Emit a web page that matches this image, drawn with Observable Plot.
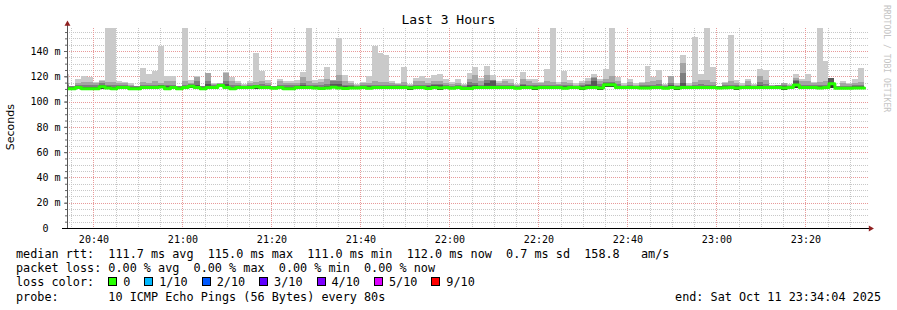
<!DOCTYPE html>
<html>
<head>
<meta charset="utf-8">
<script src="https://cdn.jsdelivr.net/npm/d3@7"></script>
<script src="https://cdn.jsdelivr.net/npm/@observablehq/plot@0.6"></script>
<style>
html, body { margin: 0; padding: 0; background: #fff; }
#wrap { position: relative; width: 897px; height: 310px; overflow: hidden; background: #fff;
        font-family: "DejaVu Sans Mono", monospace; color: #000; }
#chart { position: absolute; left: 0; top: 0; }
#title { position: absolute; left: 0; top: 11.75px; width: 897px; text-align: center;
         font-size: 13px; line-height: 16px; }
#ylab { position: absolute; left: 5px; top: 104px; writing-mode: vertical-rl; transform: rotate(180deg);
        font-family: "DejaVu Sans", sans-serif; font-size: 11px; line-height: 12px; color: #000; }
#rrd { position: absolute; left: 882px; top: 5px; writing-mode: vertical-rl;
       font-size: 8.1px; line-height: 10px; color: #c4c4c4; }
#legend { position: absolute; left: 16px; top: 247px; font-size: 11.8px; line-height: 14.2px; white-space: pre; }
#endtxt { position: absolute; right: 16px; top: 289.6px; font-size: 11.8px; line-height: 14.2px; white-space: pre; }
.it { display: inline-block; margin-left: 14px; }
.sw { display: inline-block; box-sizing: border-box; width: 9px; height: 9px; border: 1px solid #000; margin-right: 6px; vertical-align: baseline; }
</style>
</head>
<body>
<div id="wrap">
  <div id="chart"></div>
  <div id="title"></div>
  <div id="ylab"></div>
  <div id="rrd"></div>
  <div id="legend"></div>
  <div id="endtxt"></div>
</div>
<script>
// ---- texts ----
const titleText = "Last 3 Hours";
const yAxisLabel = "Seconds";
const watermark = "RRDTOOL / TOBI OETIKER";
const rttStats = ["111.7 ms avg", "115.0 ms max", "111.0 ms min", "112.0 ms now", "0.7 ms sd", "158.8   am/s"];
const lossStats = ["0.00 % avg", "0.00 % max", "0.00 % min", "0.00 % now"];
const lossLabels = ["0", "1/10", "2/10", "3/10", "4/10", "5/10", "9/10"];
const lossColors = ["#26ff00", "#00b8ff", "#0059ff", "#5e00ff", "#7e00ff", "#dd00ff", "#ff0000"];
const probeText = "10 ICMP Echo Pings (56 Bytes) every 80s";
const endText = "end: Sat Oct 11 23:34:04 2025";

// ---- axes ----
const timeTickLabels = ["20:40", "21:00", "21:20", "21:40", "22:00", "22:20", "22:40", "23:00", "23:20"];
const yTickValues = [0, 20, 40, 60, 80, 100, 120, 140];
const viewStart = Date.UTC(2025, 9, 11, 20, 34, 4);
const viewEnd = Date.UTC(2025, 9, 11, 23, 34, 4);
const yTop = 158.2;

// ---- data: one column per 80 s step, values in ms ----
const firstColumn = Date.UTC(2025, 9, 11, 20, 33, 11);
const stepMs = 80 * 1000;

const pMax = [121.8,112.5,117.6,120,119.5,115.6,117,160,160,116,
115.6,114.5,112.5,126.3,122,124,144,120,120,112.5,
160,117,120,112.5,123,115,114.5,123.5,119.5,116,
114,116,138.7,124,117,112.5,118,116,116,117,
123.7,160,117,118,127.6,117,150.3,121,116,114,
115.7,120,144.2,138.7,137,116,115,127.6,114,119,
120,119,121,122,117.6,115.7,118,114,122.9,127.6,
119,128.1,121,116,118,118,114,123.7,117.6,117.6,
115.7,125.5,160,115.7,124.3,117,114.8,116,119,122,
118,125.5,160,119.5,114.8,117.6,114.8,115.7,128,119.5,
125,114,120,114.8,136.8,114.8,151.3,122,160,127.6,
112.5,115.7,152.6,117,114.8,118,114,125.5,125,113.3,
113.3,115,114,122,118,122,115.7,160,132.4,119,
112.5,116,115,117.6,126.8];

const p9 = [115,112.5,115,115.7,115.7,114.5,116,115.7,115.5,114.5,
114.5,113.5,112.5,115.7,115,116,115,116,116,112.5,
116,115,119.5,112.5,123,114,114.5,122.9,116,114.5,
113.5,115,115.5,116,114.5,112.5,116,114.5,114.5,115,
119.5,116,115,115.5,118,117,121,116,114.5,113.5,
114.5,114.5,116,115.5,115.5,114.5,114,115.6,113.5,116,
116,115,116.5,116,115,114,115,113,118,121,
116,121,117,114.5,116,115,113,118,116,115,
114.5,116,115.5,114,115.7,115,113.5,114.5,116,119.5,
116,118,120,116.5,113.5,115.5,113.5,114.5,115.7,116,
117,113,120,113.5,130.8,113.5,115.6,117,117,115.6,
112.5,114.5,116,115,113.5,116,113,120.2,117,112.8,
113.3,114.5,113,119,116,116,114.5,115.5,116,119,
112.5,114.5,114,115,115.7];

const p8 = [113,112,113,113.5,113.5,113,115,113,113,113,
113,112.5,112,113.5,113,113.5,113.5,113.5,113,112,
113.5,114,116,112,116,113,114,116,113,113,
112.5,113,113.5,114,113,112,113.5,113,113,113,
115,113.5,113,113,114,116,116,113.5,113,112.5,
113,113,113.5,113.5,113.5,113,113,113,112.5,113.5,
113.5,113,114,114,113,112.5,113,112,115.6,115,
113.5,117,117,113,113.5,113,112,114,113.5,113,
113,113.5,113,113,113.5,113,112.5,113,114,119,
114,115.5,115.5,114,112.5,113,112.5,113,113,113.5,
114,112,115,112.5,122.9,112.5,113,114,113.5,113,
112,113,113.5,113.5,112.5,113.5,112.5,115.6,114,112.5,
113,113,112.5,117,113.5,113.5,113,113,113,119,
112,112.5,112.5,113,113];

const p7 = [111.5,111.5,112.3,111.8,111.8,111.5,113.5,112,111.5,112.4,
112.4,111.5,111.5,112.4,112.4,112.6,113,112,112.4,111.5,
112.4,113.4,113.5,111.5,114,112.4,114,114,111.8,112.4,
112.2,112.4,113,112.6,112.4,111.6,112.4,111.8,111.8,112.4,
113,112.4,112,111.8,112.4,114,114,112,112,111.8,
112.4,112,112.4,112.4,112.4,112.4,112.4,112.4,112,112.6,
112.6,112,113,113,112.4,111.8,112.4,111.6,113,113,
112.4,115,116,112.4,112.4,112.4,111.8,113,112.4,112,
112.4,112.4,112.4,112.4,112,112.4,112.4,112,113,116,
112.6,115,115,112.4,112.2,112.4,112.2,112,112,112.4,
112.6,111.8,113,112,115,112.4,112.4,112.4,112.4,112.4,
112,112.2,112.4,112.4,112.2,112.4,112.2,113,112.4,112.2,
112.4,112.4,112.2,116,112.4,112.4,112.4,112,112.4,119,
111.8,111.8,111.8,112,112];

const median = [110.6,110.6,111.5,110.6,110.6,110.6,112.2,111.2,110.6,111.6,
111.6,110.6,110.6,111.6,111.6,111.6,112,110.6,111.6,110.6,
111.6,112.6,111.6,110.6,111.6,111.6,113.2,111.6,110.6,111.6,
111.6,111.6,112.2,111.6,111.6,111,111.6,110.6,110.6,111.6,
111.6,111.6,111.2,110.8,111.2,111.8,111.2,110.8,111.2,111.2,
111.6,111,111.6,111.6,111.6,111.6,111.6,111.6,111.2,111.6,
111.6,110.8,111.6,111.2,111.6,111,111.6,110.8,110.8,111.6,
111.6,111.6,111.6,111.6,111.6,111.6,111,111.6,111.6,111.2,
111.6,111.6,111.6,111.6,111,111.6,111.6,111,111.6,111.6,
111.2,113.8,113.8,111.6,111.6,111.6,111.6,111.2,111.2,111.6,
111.6,111,111.6,111.2,111.6,111.6,111.6,111.6,111.6,111.6,
111.2,111.4,111.6,111.2,111.6,111.6,111.6,111.6,111.6,111.6,
111.6,111.2,111.6,113.6,111.6,111.6,111.6,111.2,111.6,114.4,
111,111,111,111.2,111.2];

const pMin = [109.8,109.8,110.7,108.8,108.8,109.8,110.2,110.4,109.8,110.8,
110.8,109.8,109.8,110.8,110.8,110.8,111.2,108.8,110.8,108.8,
110.8,110.6,110.8,108.8,110.8,110.8,111.2,110.8,108.8,110.8,
110.8,110.8,110.2,110.8,110.8,110.2,110.8,108.8,108.8,110.8,
110.8,110.8,110.4,110,110.4,111,110.4,110,110.4,110.4,
110.8,110.2,110.8,110.8,110.8,110.8,110.8,110.8,109.4,110.8,
110.8,110,110.8,109.4,110.8,110.2,110.8,110,110,110.8,
110.8,110.8,110.8,110.8,110.8,110.8,110.2,110.8,110.8,109.4,
110.8,110.8,110.8,110.8,110.2,110.8,110.8,109.2,110.8,110.8,
109.4,111.4,111.4,110.8,110.8,110.8,110.8,110.4,110.4,110.8,
110.8,110.2,110.8,109.4,109.8,110.8,110.8,110.8,110.8,110.8,
110.4,110.6,110.8,109.4,110.8,110.8,110.8,110.8,110.8,110.8,
110.8,109.4,110.8,111,110.8,110.8,110.8,110.4,110.8,110.5,
110.2,110.2,110.2,110.4,110.4];

const columns = pMax.map((v, i) => ({
  t0: new Date(firstColumn + i * stepMs),
  t1: new Date(firstColumn + (i + 1) * stepMs),
  lo: pMin[i], max: v, p9: p9[i], p8: p8[i], p7: p7[i], med: median[i]
}));
const last = columns[columns.length - 1];
const medianPts = columns.map(c => ({t: c.t0, v: c.med})).concat([{t: last.t1, v: last.med}]);

// smoke bands: outer (lightest) to inner (darkest)
const bandKeys = ["max", "p9", "p8", "p7", "med"];
const bandFills = ["#cacaca", "#a4a4a4", "#7e7e7e", "#585858", "#323232"];

const parseHM = s => { const [h, m] = s.split(":").map(Number); return new Date(Date.UTC(2025, 9, 11, h, m)); };
const majorX = timeTickLabels.map(parseHM);
const minorX = d3.utcMinute.every(5).range(new Date(viewStart), new Date(viewEnd));
const minorY = d3.range(5, yTop, 5);
const majorY = yTickValues.filter(v => v > 0);

const grid = {strokeDasharray: "1,1", shapeRendering: "crispEdges", strokeWidth: 1};

const chart = Plot.plot({
  width: 897, height: 250,
  marginTop: 28, marginBottom: 22, marginLeft: 67, marginRight: 29,
  x: {type: "utc", domain: [new Date(viewStart), new Date(viewEnd)], label: null},
  y: {domain: [0, yTop], label: null},
  style: {fontFamily: "'DejaVu Sans Mono', monospace", fontSize: "10px", background: "transparent", color: "#000", overflow: "visible"},
  marks: [
    Plot.ruleY(minorY, {...grid, stroke: "#c8c8c8"}),
    Plot.ruleX(minorX, {...grid, stroke: "#c8c8c8"}),
    Plot.ruleY(majorY, {...grid, stroke: "#e89a9a"}),
    Plot.ruleX(majorX, {...grid, stroke: "#e89a9a"}),
    ...bandKeys.map((k, i) => Plot.rectY(columns, {
      x1: "t0", x2: "t1", y1: "lo", y2: k, fill: bandFills[i], clip: true, shapeRendering: "crispEdges"
    })),
    Plot.line(medianPts, {x: "t", y: "v", curve: "step-after", stroke: lossColors[0], strokeWidth: 3, clip: true}),
    Plot.axisY({ticks: minorY, tickSize: 2, tickFormat: () => "", stroke: "#666", label: null}),
    Plot.axisY({ticks: yTickValues, tickSize: 3, tickPadding: 4, stroke: "#666", label: null,
      tickFormat: d => d === 0 ? "0\u00a0\u00a0" : d + " m"}),
    Plot.axisX({ticks: majorX, tickSize: 0, tickPadding: 7, label: null, tickFormat: d3.utcFormat("%H:%M")}),
    Plot.ruleX([new Date(viewStart)], {stroke: "#555", insetTop: -6, shapeRendering: "crispEdges"}),
    Plot.ruleY([0], {stroke: "#000", insetLeft: -5, insetRight: -2, shapeRendering: "crispEdges"}),
    Plot.dot([{x: new Date(viewStart), y: yTop}], {x: "x", y: "y", symbol: "triangle", r: 2.2, fill: "#902020", dy: -4.5}),
    Plot.dot([{x: new Date(viewEnd), y: 0}], {x: "x", y: "y", symbol: "triangle", r: 2.2, fill: "#902020", rotate: 90, dx: 2})
  ]
});
document.getElementById("chart").append(chart);

// ---- texts around the chart ----
document.getElementById("title").textContent = titleText;
document.getElementById("ylab").textContent = yAxisLabel;
document.getElementById("rrd").textContent = watermark;

const legend = document.getElementById("legend");
function row(text) { const d = document.createElement("div"); d.textContent = text; legend.append(d); return d; }
row("median rtt:  " + rttStats.join("  "));
row("packet loss: " + lossStats.join("  "));
const lc = row("loss color:");
lossLabels.forEach((lab, i) => {
  const it = document.createElement("span"); it.className = "it";
  const sw = document.createElement("span"); sw.className = "sw"; sw.style.background = lossColors[i];
  it.append(sw, document.createTextNode(lab));
  lc.append(it);
});
row("probe:       " + probeText);
document.getElementById("endtxt").textContent = endText;
</script>
</body>
</html>
